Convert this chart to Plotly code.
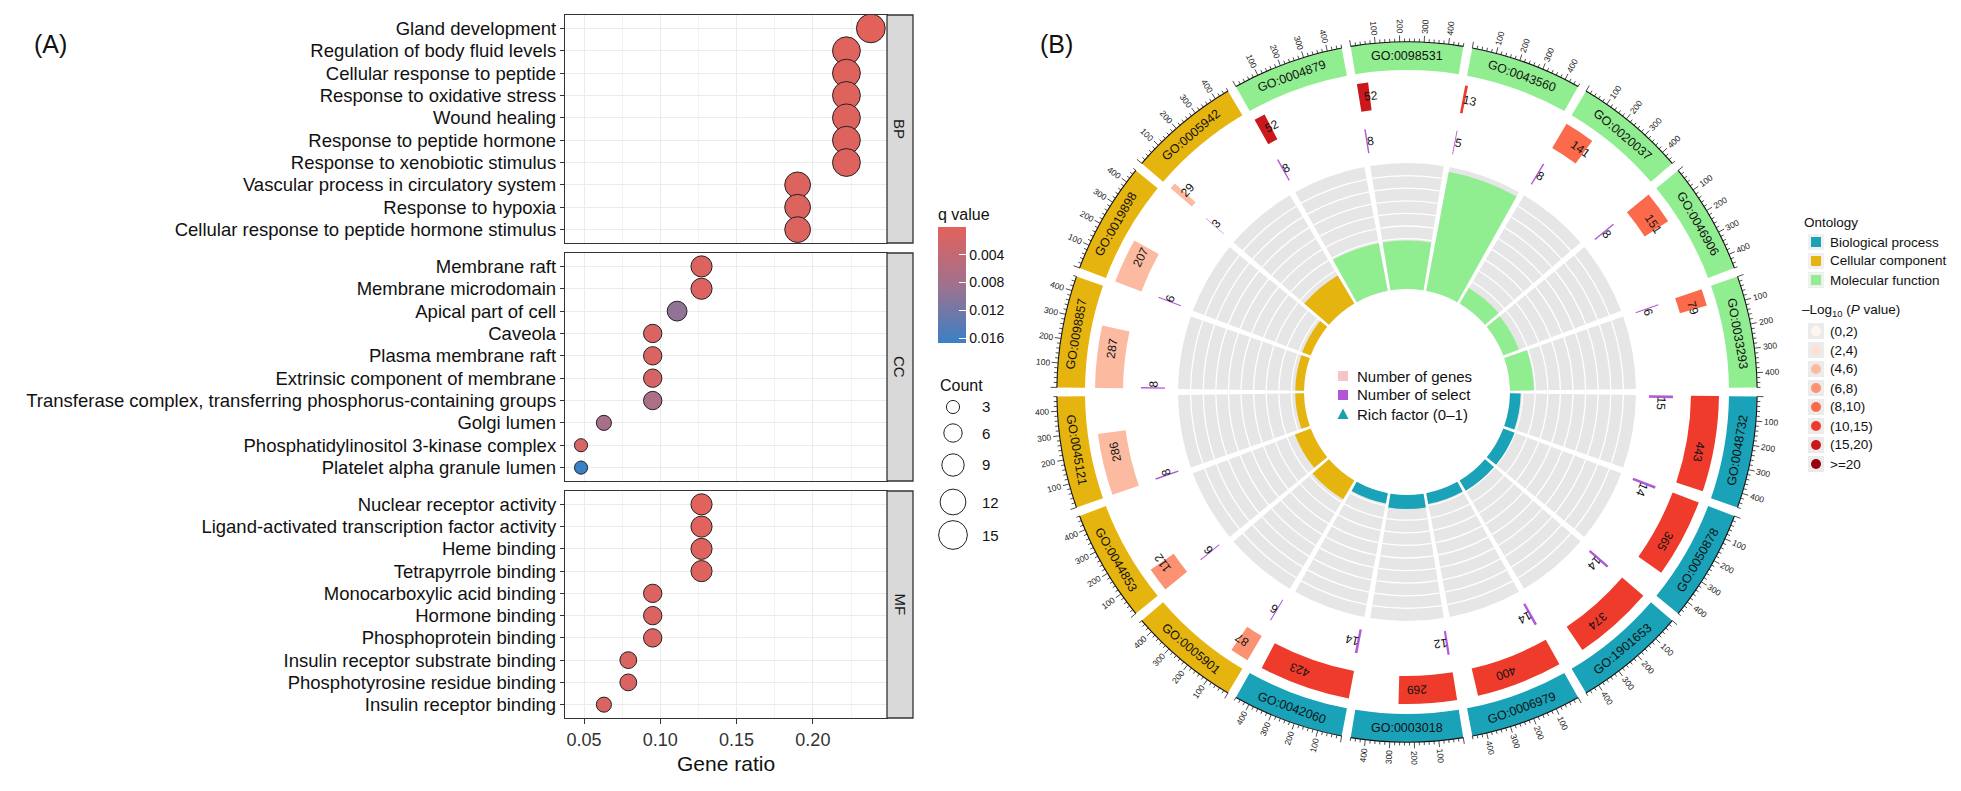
import math
import plotly.graph_objects as go

W, H = 1961, 791
FONT = "Liberation Sans, Arial, sans-serif"

# ---------------- Panel A data ----------------
bp_terms = ["Gland development", "Regulation of body fluid levels", "Cellular response to peptide",
            "Response to oxidative stress", "Wound healing", "Response to peptide hormone",
            "Response to xenobiotic stimulus", "Vascular process in circulatory system",
            "Response to hypoxia", "Cellular response to peptide hormone stimulus"]
bp_ratio = [0.238, 0.222, 0.222, 0.222, 0.222, 0.222, 0.222, 0.190, 0.190, 0.190]
bp_count = [15, 14, 14, 14, 14, 14, 14, 12, 12, 12]
bp_q = [0.00002, 0.0003, 0.0004, 0.0004, 0.0004, 0.0005, 0.0005, 0.0006, 0.0006, 0.0007]

cc_terms = ["Membrane raft", "Membrane microdomain", "Apical part of cell", "Caveola",
            "Plasma membrane raft", "Extrinsic component of membrane",
            "Transferase complex, transferring phosphorus-containing groups", "Golgi lumen",
            "Phosphatidylinositol 3-kinase complex", "Platelet alpha granule lumen"]
cc_ratio = [0.127, 0.127, 0.111, 0.095, 0.095, 0.095, 0.095, 0.063, 0.048, 0.048]
cc_count = [8, 8, 7, 6, 6, 6, 6, 4, 3, 3]
cc_q = [0.0008, 0.0008, 0.0095, 0.0012, 0.0012, 0.0014, 0.0070, 0.0075, 0.0015, 0.0167]

mf_terms = ["Nuclear receptor activity", "Ligand-activated transcription factor activity",
            "Heme binding", "Tetrapyrrole binding", "Monocarboxylic acid binding",
            "Hormone binding", "Phosphoprotein binding", "Insulin receptor substrate binding",
            "Phosphotyrosine residue binding", "Insulin receptor binding"]
mf_ratio = [0.127, 0.127, 0.127, 0.127, 0.095, 0.095, 0.095, 0.079, 0.079, 0.063]
mf_count = [8, 8, 8, 8, 6, 6, 6, 5, 5, 4]
mf_q = [0.0003, 0.0003, 0.0005, 0.0005, 0.0008, 0.0009, 0.0010, 0.0010, 0.0011, 0.0012]

q_ticks = [0.004, 0.008, 0.012, 0.016]
count_legend = [3, 6, 9, 12, 15]

# ---------------- Panel B data ----------------
go_ids = ["GO:0048732", "GO:0050878", "GO:1901653", "GO:0006979", "GO:0003018", "GO:0042060",
          "GO:0005901", "GO:0044853", "GO:0045121", "GO:0098857", "GO:0019898", "GO:0005942",
          "GO:0004879", "GO:0098531", "GO:0043560", "GO:0020037", "GO:0046906", "GO:0033293"]
go_ont = ["BP"] * 6 + ["CC"] * 6 + ["MF"] * 6
go_genes = [443, 365, 374, 400, 269, 423, 87, 112, 286, 287, 207, 29, 52, 52, 13, 141, 151, 79]
go_select = [15, 14, 14, 14, 12, 14, 6, 6, 8, 8, 6, 3, 8, 8, 5, 8, 8, 6]
go_logp = [13.0, 12.5, 12.3, 12.2, 11.5, 12.0, 7.0, 6.5, 5.8, 5.7, 4.8, 5.0,
           15.5, 15.5, 10.5, 9.0, 8.8, 8.3]
axis_labels = [100, 200, 300, 400]
ont_names = ["Biological process", "Cellular component", "Molecular function"]
p_bins = ["(0,2)", "(2,4)", "(4,6)", "(6,8)", "(8,10)", "(10,15)", "(15,20)", ">=20"]
p_edges = [0, 2, 4, 6, 8, 10, 15, 20]
p_colors = ["#FFF5F0", "#FEE0D2", "#FCBBA1", "#FC9272", "#FB6A4A", "#EF3B2C", "#CB181D", "#99000D"]
ont_colors = {"BP": "#19A2B8", "CC": "#E6B40F", "MF": "#90EE90"}


def px(x):
    return x / W


def py(y):
    return 1 - y / H


def dia(c):
    return 7.3 * math.sqrt(c) + 0.5


annotations = []
shapes = []


def ann(text, x, y, size, xanchor="center", angle=0, color="#111"):
    annotations.append(dict(text=text, x=px(x), y=py(y), xref="paper", yref="paper",
                            xanchor=xanchor, yanchor="middle", showarrow=False,
                            textangle=angle, borderpad=0,
                            font=dict(size=size, color=color, family=FONT)))


fig = go.Figure()

# ---------------- Panel A ----------------
XL, XR = 565, 887
panels = [("BP", bp_terms, bp_ratio, bp_count, bp_q, 15, 243),
          ("CC", cc_terms, cc_ratio, cc_count, cc_q, 253, 481),
          ("MF", mf_terms, mf_ratio, mf_count, mf_q, 491, 718)]
all_q = bp_q + cc_q + mf_q
qmin, qmax = min(all_q), max(all_q)
cscale = [[0, "#3A80C4"], [0.5, "#A0718F"], [1, "#E2625B"]]

for i, (name, terms, ratio, count, q, y0, y1) in enumerate(panels):
    sfx = "" if i == 0 else str(i + 1)
    last = (i == 2)
    mk = dict(size=[dia(c) for c in count], color=[-v for v in q], colorscale=cscale,
              cmin=-qmax, cmax=-qmin, line=dict(color="#222222", width=1), opacity=1,
              showscale=(i == 0))
    if i == 0:
        mk["colorbar"] = dict(
            title=dict(text="q value", side="top", font=dict(size=16, color="#111", family=FONT)),
            x=px(938), xanchor="left", y=py(274), yanchor="middle",
            len=138, lenmode="pixels", thickness=28, thicknessmode="pixels",
            outlinewidth=0, ticks="inside", ticklen=7, tickcolor="white", tickwidth=1,
            tickvals=[-v for v in q_ticks], ticktext=["%.3f" % v for v in q_ticks],
            tickfont=dict(size=14, color="#111", family=FONT), xpad=0, ypad=0)
    fig.add_trace(go.Scatter(x=ratio, y=terms, mode="markers", marker=mk,
                             xaxis="x" + sfx, yaxis="y" + sfx, showlegend=False, hoverinfo="skip"))
    fig.layout["xaxis" + sfx] = dict(
        domain=[px(XL), px(XR)], range=[0.0375, 0.2486], anchor="y" + sfx,
        tick0=0.05, dtick=0.05, tickformat=".2f",
        showgrid=True, gridcolor="#EBEBEB", gridwidth=1.1,
        minor=dict(dtick=0.025, tick0=0.025, showgrid=True, gridcolor="#F3F3F3", gridwidth=0.6),
        showline=True, mirror=True, linecolor="#333333", linewidth=1.3, zeroline=False,
        ticks="outside" if last else "", ticklen=5, tickcolor="#333333",
        showticklabels=last, tickfont=dict(size=18, color="#333", family=FONT),
        automargin=False, fixedrange=True)
    fig.layout["yaxis" + sfx] = dict(
        domain=[py(y1), py(y0)], anchor="x" + sfx, type="category",
        categoryorder="array", categoryarray=terms, range=[len(terms) - 0.4, -0.6],
        showgrid=True, gridcolor="#EBEBEB", gridwidth=1.1,
        showline=True, mirror=True, linecolor="#333333", linewidth=1.3, zeroline=False,
        ticks="outside", ticklen=4, tickcolor="#333333",
        tickfont=dict(size=18.5, color="#111", family=FONT), automargin=False, fixedrange=True)
    shapes.append(dict(type="rect", xref="paper", yref="paper", x0=px(XR), x1=px(913),
                       y0=py(y1), y1=py(y0), fillcolor="#D9D9D9",
                       line=dict(color="#333333", width=1.3), layer="above"))
    ann(name, 900, (y0 + y1) / 2, 15, angle=90, color="#1A1A1A")

ann("Gene ratio", (XL + XR) / 2, 763, 21)
ann("(A)", 50, 44, 25)

# Count legend
ann("Count", 939, 385, 16, xanchor="left")
leg_y = [407, 433, 465, 502, 535]
for c, yy in zip(count_legend, leg_y):
    d = dia(c)
    shapes.append(dict(type="circle", xref="paper", yref="paper",
                       x0=px(953 - d / 2), x1=px(953 + d / 2), y0=py(yy + d / 2), y1=py(yy - d / 2),
                       fillcolor="white", line=dict(color="#222", width=1)))
    ann(str(c), 981, yy, 15, xanchor="left")

# ---------------- Panel B (circular) ----------------
cx, cy, R0 = 1407, 392, 392
GAP = 1.5
SPAN = 20 - GAP
XMAX = 460
K = SPAN / XMAX  # degrees per unit

n = len(go_ids)
th_start = [90 + 20 * i + GAP / 2 for i in range(n)]
th_mid = [s + SPAN / 2 for s in th_start]


def pcol(v):
    idx = 0
    for j, e in enumerate(p_edges):
        if v > e:
            idx = j
    return p_colors[idx]


def pol(r, th):
    t = math.radians(th)
    return cx + r * math.sin(t), cy - r * math.cos(t)


def norm(a):
    return (a + 180) % 360 - 180


RB, RH = 103, 126
RICH_MAX = 0.40
rich = [s / g for s, g in zip(go_select, go_genes)]
fig.add_trace(go.Barpolar(theta=th_mid, r=[RH] * n, base=[RB] * n, width=[SPAN] * n,
                          marker=dict(color="#E6E6E6", line=dict(width=0)), hoverinfo="skip"))
g_th, g_r, g_b = [], [], []
for k in range(1, 10):
    for t in th_mid:
        g_th.append(t)
        g_r.append(1.3)
        g_b.append(RB + k * RH / 10 - 0.65)
fig.add_trace(go.Barpolar(theta=g_th, r=g_r, base=g_b, width=[SPAN] * len(g_th),
                          marker=dict(color="white", line=dict(width=0)), hoverinfo="skip"))
fig.add_trace(go.Barpolar(theta=th_mid, r=[v / RICH_MAX * RH for v in rich], base=[RB] * n,
                          width=[SPAN] * n,
                          marker=dict(color=[ont_colors[o] for o in go_ont], line=dict(width=0)),
                          hoverinfo="skip"))
fig.add_trace(go.Barpolar(theta=[s + v * K / 2 for s, v in zip(th_start, go_select)],
                          r=[24] * n, base=[242] * n, width=[v * K for v in go_select],
                          marker=dict(color="#B259D6", line=dict(width=0)), hoverinfo="skip"))
fig.add_trace(go.Barpolar(theta=[s + v * K / 2 for s, v in zip(th_start, go_genes)],
                          r=[28] * n, base=[284] * n, width=[v * K for v in go_genes],
                          marker=dict(color=[pcol(v) for v in go_logp], line=dict(width=0)),
                          hoverinfo="skip"))
fig.add_trace(go.Barpolar(theta=th_mid, r=[28] * n, base=[322] * n, width=[SPAN] * n,
                          marker=dict(color=[ont_colors[o] for o in go_ont], line=dict(width=0)),
                          hoverinfo="skip"))
fig.add_trace(go.Barpolar(theta=th_mid, r=[1.1] * n, base=[349.6] * n, width=[SPAN] * n,
                          marker=dict(color="#111", line=dict(width=0)), hoverinfo="skip"))
t_r, t_th = [], []
for s in th_start:
    for v in range(0, XMAX + 1, 20):
        th = s + v * K
        t_r += [350, 356.5 if v % 100 == 0 else 353.5, None]
        t_th += [th, th, None]
fig.add_trace(go.Scatterpolar(r=t_r, theta=t_th, mode="lines",
                              line=dict(color="#222", width=0.8), hoverinfo="skip", connectgaps=False))

fig.update_layout(polar=dict(
    domain=dict(x=[px(cx - R0), px(cx + R0)], y=[py(cy + R0), py(cy - R0)]),
    bgcolor="rgba(0,0,0,0)", barmode="overlay", hole=0,
    radialaxis=dict(range=[0, R0], visible=False),
    angularaxis=dict(rotation=90, direction="clockwise", visible=False)))

for i in range(n):
    s = th_start[i]
    for v in axis_labels:
        th = s + v * K
        a = th % 360
        ang = a - 90 if a < 180 else a - 270
        w = len(str(v)) * 0.556 * 8.5
        x, y = pol(358.5 + w / 2, th)
        ann(str(v), x, y, 8.5, angle=norm(ang), color="#222")
    a = th_mid[i] % 360
    ang = a - 180 if 90 < a < 270 else a
    x, y = pol(336, th_mid[i])
    ann(go_ids[i], x, y, 12.5, angle=norm(ang))
    g = go_genes[i]
    w = len(str(g)) * 0.556 * 12
    th = s + g / 2 * K + math.degrees((w / 2) / 298)
    x, y = pol(298, th)
    ann(str(g), x, y, 12, angle=norm(th))
    sv = go_select[i]
    w = len(str(sv)) * 0.556 * 12
    th = s + sv / 2 * K + math.degrees((w / 2) / 254)
    x, y = pol(254, th)
    ann(str(sv), x, y, 12, angle=norm(th))

ann("(B)", 1056, 44, 25)

# center legend
center_items = [("Number of genes", "#F5C3C8", "sq"), ("Number of select", "#B455D6", "sq"),
                ("Rich factor (0\u20131)", "#1AA0B0", "tri")]
for j, (txt, col, kind) in enumerate(center_items):
    yy = 376 + 19 * j
    if kind == "sq":
        shapes.append(dict(type="rect", xref="paper", yref="paper", x0=px(1338), x1=px(1348),
                           y0=py(yy + 5), y1=py(yy - 5), fillcolor=col, line=dict(width=0)))
    else:
        path = "M %f %f L %f %f L %f %f Z" % (px(1337.5), py(yy + 5), px(1348.5), py(yy + 5),
                                              px(1343), py(yy - 5.5))
        shapes.append(dict(type="path", xref="paper", yref="paper", path=path,
                           fillcolor=col, line=dict(width=0)))
    ann(txt, 1356, yy, 15, xanchor="left")

# right legends
ann("Ontology", 1803, 222, 13.5, xanchor="left")
for j, (nm, key) in enumerate(zip(ont_names, ["BP", "CC", "MF"])):
    yy = 242 + 19 * j
    shapes.append(dict(type="rect", xref="paper", yref="paper", x0=px(1808), x1=px(1824),
                       y0=py(yy + 8), y1=py(yy - 8), fillcolor="#F0F0F0", line=dict(width=0)))
    shapes.append(dict(type="rect", xref="paper", yref="paper", x0=px(1811), x1=px(1821),
                       y0=py(yy + 5), y1=py(yy - 5), fillcolor=ont_colors[key], line=dict(width=0)))
    ann(nm, 1829, yy, 13.5, xanchor="left")

ann("\u2013Log<sub>10</sub> (<i>P</i> value)", 1801, 310, 13.5, xanchor="left")
for j, (lab, col) in enumerate(zip(p_bins, p_colors)):
    yy = 331 + 19 * j
    shapes.append(dict(type="rect", xref="paper", yref="paper", x0=px(1808), x1=px(1824),
                       y0=py(yy + 8), y1=py(yy - 8), fillcolor="#EBEBEB", line=dict(width=0)))
    shapes.append(dict(type="circle", xref="paper", yref="paper", x0=px(1811), x1=px(1821),
                       y0=py(yy + 5), y1=py(yy - 5), fillcolor=col, line=dict(width=0)))
    ann(lab, 1829, yy, 13.5, xanchor="left")

fig.update_layout(width=W, height=H, margin=dict(l=0, r=0, t=0, b=0), autosize=False,
                  paper_bgcolor="white", plot_bgcolor="white", showlegend=False,
                  font=dict(family=FONT, color="#111"),
                  annotations=annotations, shapes=shapes)
fig.write_html("out.html", config={"displayModeBar": False},
               post_script="document.body.style.margin='0px';document.body.style.overflow='hidden';")
